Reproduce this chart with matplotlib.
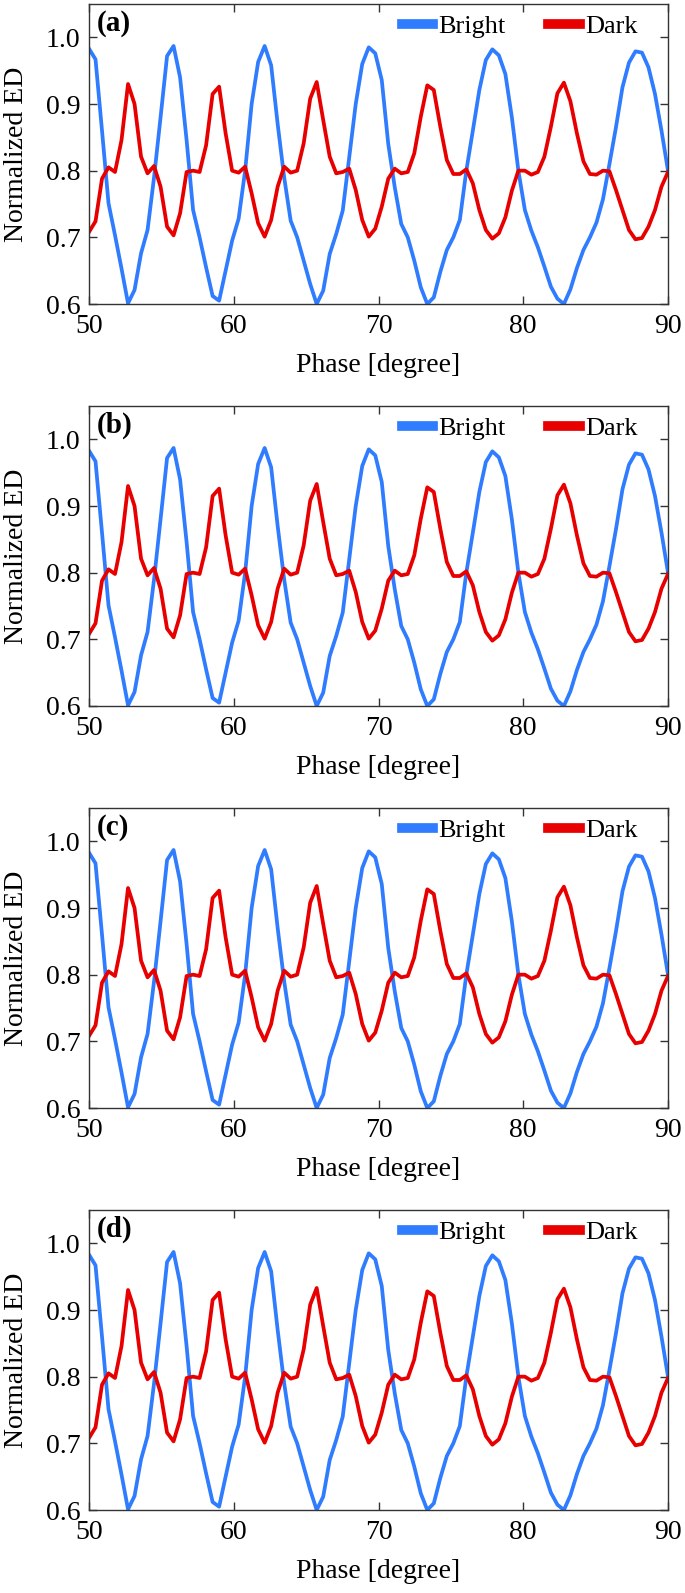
import numpy as np
import matplotlib
matplotlib.use('Agg')
from matplotlib import pyplot as plt

plt.rcParams['font.family'] = ['Liberation Serif', 'DejaVu Serif']

# phase grid: 90 samples between 50 and 90 degree
phase = np.linspace(50, 90, 90)

bright = [0.983, 0.967, 0.860, 0.751, 0.703, 0.653, 0.601, 0.621, 0.676, 0.711,
          0.790, 0.880, 0.972, 0.987, 0.940, 0.846, 0.741, 0.700, 0.655, 0.612,
          0.605, 0.650, 0.695, 0.728, 0.800, 0.900, 0.963, 0.987, 0.958, 0.870,
          0.790, 0.725, 0.700, 0.665, 0.630, 0.600, 0.620, 0.675, 0.705, 0.740,
          0.820, 0.900, 0.960, 0.985, 0.976, 0.936, 0.840, 0.775, 0.720, 0.700,
          0.665, 0.625, 0.600, 0.610, 0.648, 0.681, 0.700, 0.726, 0.800, 0.860,
          0.921, 0.966, 0.982, 0.973, 0.945, 0.880, 0.800, 0.741, 0.710, 0.685,
          0.656, 0.626, 0.608, 0.600, 0.622, 0.654, 0.681, 0.700, 0.722, 0.757,
          0.810, 0.865, 0.925, 0.962, 0.979, 0.977, 0.955, 0.915, 0.860, 0.800]

dark = [0.708, 0.724, 0.788, 0.805, 0.798, 0.846, 0.930, 0.900, 0.821, 0.796,
        0.807, 0.776, 0.716, 0.703, 0.736, 0.798, 0.800, 0.798, 0.838, 0.915,
        0.926, 0.856, 0.800, 0.797, 0.806, 0.766, 0.721, 0.701, 0.726, 0.776,
        0.806, 0.797, 0.800, 0.841, 0.908, 0.933, 0.876, 0.821, 0.796, 0.798,
        0.803, 0.771, 0.726, 0.701, 0.713, 0.746, 0.788, 0.803, 0.796, 0.798,
        0.826, 0.881, 0.928, 0.921, 0.866, 0.816, 0.795, 0.795, 0.802, 0.781,
        0.741, 0.711, 0.698, 0.706, 0.730, 0.770, 0.800, 0.800, 0.794, 0.798,
        0.821, 0.866, 0.916, 0.932, 0.904, 0.856, 0.814, 0.795, 0.794, 0.800,
        0.799, 0.771, 0.741, 0.711, 0.697, 0.699, 0.716, 0.741, 0.776, 0.798]

panels = ['(a)', '(b)', '(c)', '(d)']
xticks = [50, 60, 70, 80, 90]
yticks = [0.6, 0.7, 0.8, 0.9, 1.0]

W, H = 685, 1593
fig = plt.figure(figsize=(W / 100, H / 100), dpi=100)

tops = [4, 406, 808, 1210]  # pixel top of each axes
for k in range(4):
    ax = fig.add_axes([89 / W, 1 - (tops[k] + 300) / H, 579 / W, 300 / H])
    ax.plot(phase, bright, color='#2f7cff', lw=2.7, label='Bright')
    ax.plot(phase, dark, color='#e80000', lw=2.7, label='Dark')
    ax.set_xlim(50, 90)
    ax.set_ylim(0.6, 1.05)
    ax.set_xticks(xticks)
    ax.set_yticks(yticks)
    ax.set_yticklabels(['%.1f' % v for v in yticks])
    ax.tick_params(direction='in', top=True, right=True, length=6, width=1,
                   labelsize=20, color='#333333')
    ax.tick_params(axis='x', pad=7)
    ax.tick_params(axis='y', pad=6)
    for s in ax.spines.values():
        s.set_linewidth(1.0)
        s.set_color('#333333')
    ax.set_xlabel('Phase [degree]', fontsize=20)
    ax.set_ylabel('Normalized ED', fontsize=20)
    ax.xaxis.set_label_coords(0.5, -0.165)
    ax.yaxis.set_label_coords(-0.104, 0.5)
    ax.text(0.013, 0.935, panels[k], transform=ax.transAxes, fontsize=21,
            fontweight='bold', va='center', ha='left')
    leg = ax.legend(loc='center left', bbox_to_anchor=(0.54, 0.925), ncol=2,
                    frameon=False, fontsize=19, handlelength=1.2,
                    handletextpad=0.2, columnspacing=1.6, borderpad=0,
                    borderaxespad=0)
    for h in leg.legend_handles:
        h.set_linewidth(7)

fig.savefig('out.png', dpi=100)
